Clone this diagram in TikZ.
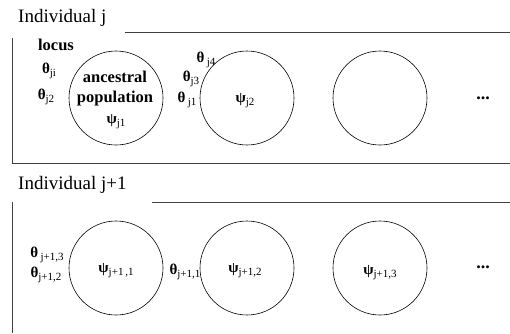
\documentclass[tikz,border=0pt]{standalone}
\usepackage{fontspec}
\setmainfont{Liberation Serif}
\newcommand{\bth}{{\bfseries θ}}
\newcommand{\bps}{{\bfseries ψ}}
\newcommand{\lsub}[1]{\raisebox{-0.4ex}{\fontsize{11}{11}\selectfont #1}}
\begin{document}
\begin{tikzpicture}[x=1pt,y=-1pt,
  frame/.style={draw=black!75,line width=0.9pt},
  pop/.style={draw,circle,minimum size=94pt,inner sep=0pt,line width=0.6pt},
  title/.style={font=\fontsize{19}{19}\selectfont,anchor=west,inner sep=0pt},
  lab/.style={font=\fontsize{15}{15}\selectfont,inner sep=0pt},
  word/.style={font=\fontsize{16.5}{16.5}\selectfont\bfseries,inner sep=0pt},
  dots/.style={font=\fontsize{18}{18}\selectfont\bfseries,inner sep=0pt}]
\useasboundingbox (0,0) rectangle (510,333);
% top block
\node[title] (t1) at (18,18) {Individual j};
\coordinate (t1a) at (125,32);
\coordinate (t1b) at (510,32);
\coordinate (l1a) at (12,38);
\coordinate (l1b) at (12,163);
\coordinate (b1b) at (510,163);
\draw[frame] (t1a) -- (t1b);
\draw[frame] (l1a) -- (l1b) -- (b1b);
\node[pop] (c11) at (116,98) {};
\node[pop] (c12) at (247,98) {};
\node[pop] (c13) at (380,98) {};
\node[dots] (d1) at (483,98) {...};
\node[word] (locus) at (56,45) {locus};
\node[lab] (thji) at (49,71) {\bth\lsub{ji}};
\node[lab] (thj2) at (46,97) {\bth\lsub{j2}};
\node[word] (anc) at (115,77) {ancestral};
\node[word] (popn) at (115,99) {population};
\node[lab] (psij1) at (116,122) {\bps\lsub{j1}};
\node[lab] (thj4) at (206,60) {\bth\,\lsub{j4}};
\node[lab] (thj3) at (191,79) {\bth\lsub{j3}};
\node[lab] (thj1) at (187,100) {\bth\,\lsub{j1}};
\node[lab] (psij2) at (245,101) {\bps\lsub{j2}};
% bottom block
\node[title] (t2) at (18,185) {Individual j+1};
\coordinate (t2a) at (152,202);
\coordinate (t2b) at (510,202);
\coordinate (l2a) at (12,202);
\coordinate (l2b) at (12,333);
\draw[frame] (t2a) -- (t2b);
\draw[frame] (l2a) -- (l2b);
\node[pop] (c21) at (116,268) {};
\node[pop] (c22) at (247,268) {};
\node[pop] (c23) at (380,268) {};
\node[dots] (d2) at (483,267) {...};
\node[lab] (th3) at (47,255) {\bth\,\lsub{j+1,3}};
\node[lab] (th2) at (46,275) {\bth\lsub{j+1,2}};
\node[lab] (th1) at (185,272) {\bth\lsub{j+1,1}};
\node[lab] (ps1) at (116,271) {\bps\lsub{j+1\,,1}};
\node[lab] (ps2) at (245,271) {\bps\lsub{j+1,2}};
\node[lab] (ps3) at (380,273) {\bps\lsub{j+1,3}};
\end{tikzpicture}
\end{document}
